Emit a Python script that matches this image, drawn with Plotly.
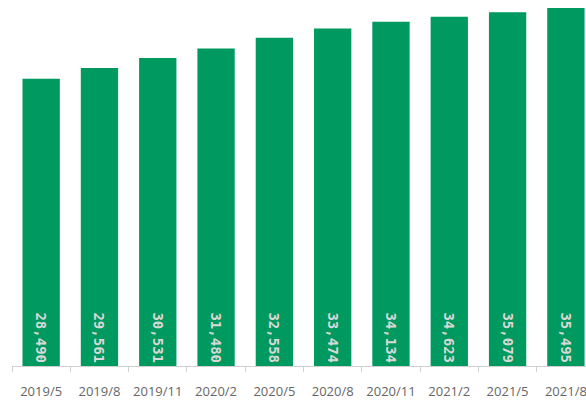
import plotly.graph_objects as go

categories = ["2019/5", "2019/8", "2019/11", "2020/2", "2020/5",
              "2020/8", "2020/11", "2021/2", "2021/5", "2021/8"]
values = [28490, 29561, 30531, 31480, 32558, 33474, 34134, 34623, 35079, 35495]
labels = [f"{v:,}" for v in values]

fig = go.Figure(go.Bar(
    x=categories, y=values, text=labels,
    textposition="inside", insidetextanchor="start", textangle=90,
    textfont=dict(family="DejaVu Sans Mono", size=14, color="#d8d8d8", weight="bold"),
    marker=dict(color="#00995F", line=dict(width=0)),
    cliponaxis=False,
))

fig.update_layout(
    width=586, height=401,
    margin=dict(l=12, r=0, t=8, b=35),
    paper_bgcolor="white", plot_bgcolor="white",
    bargap=0.36, showlegend=False,
)
fig.update_xaxes(
    type="category", range=[-0.5, 9.345], automargin=False,
    showline=True, linecolor="#d0d0d0", linewidth=1,
    ticks="outside", tickson="boundaries", ticklen=5, tickcolor="#d0d0d0",
    showgrid=False, ticklabelstandoff=13, tickangle=0,
    tickfont=dict(family="Open Sans", size=13, color="#666666"),
)
fig.update_yaxes(range=[0, 35500], visible=False, showgrid=False, zeroline=False)

fig.write_html(
    "out.html",
    config={"displayModeBar": False},
    post_script="document.body.style.margin='0';document.body.style.overflow='hidden';",
)
